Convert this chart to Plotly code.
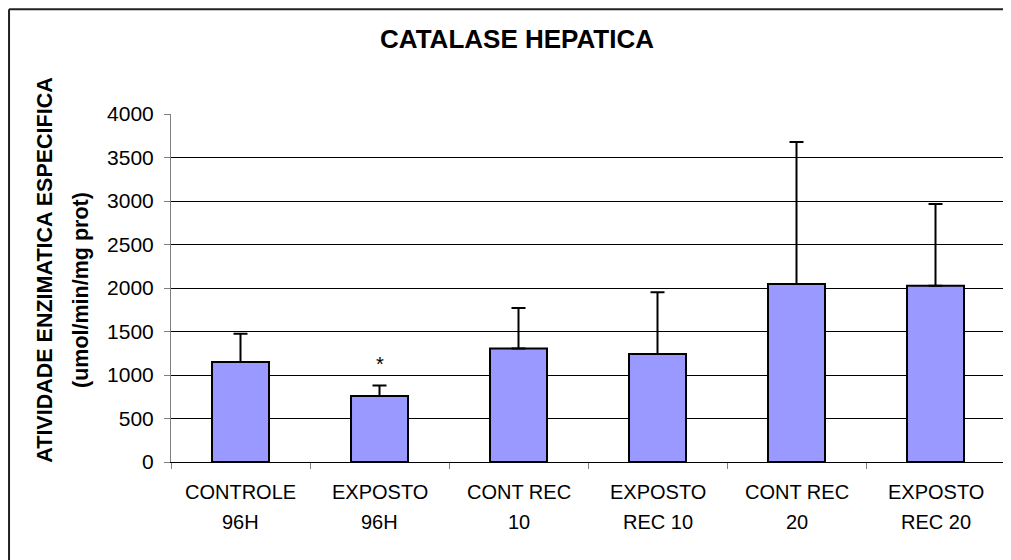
"""Catalase hepatica - barras com desvio padrao (somente para cima)."""
import plotly.graph_objects as go

# dados
label_line1 = ["CONTROLE", "EXPOSTO", "CONT REC", "EXPOSTO", "CONT REC", "EXPOSTO"]
label_line2 = ["96H", "96H", "10", "REC 10", "20", "REC 20"]
categories = [a + " " + b for a, b in zip(label_line1, label_line2)]
atividade = [1150, 760, 1305, 1240, 2045, 2025]
desvio = [325, 118, 465, 710, 1633, 940]
significativo = ["", "*", "", "", "", ""]
y_ticks = [0, 500, 1000, 1500, 2000, 2500, 3000, 3500, 4000]

FONT = "Liberation Sans, Arial, sans-serif"

fig = go.Figure(
    go.Bar(
        x=categories,
        y=atividade,
        width=0.41,
        marker=dict(color="#9999FF", line=dict(color="#000000", width=2)),
        error_y=dict(
            type="data",
            symmetric=False,
            array=desvio,
            arrayminus=[0] * len(desvio),
            color="#000000",
            thickness=2,
            width=7,
        ),
        hoverinfo="skip",
    )
)

# rotulos do eixo x em duas linhas
for cat, l1, l2 in zip(categories, label_line1, label_line2):
    for txt, shift in ((l1, -30), (l2, -60)):
        fig.add_annotation(
            x=cat, xref="x", y=0, yref="paper",
            text=txt, showarrow=False,
            xanchor="center", yanchor="middle", yshift=shift,
            font=dict(family=FONT, size=20, color="#000000"),
        )

# asterisco de significancia
for cat, v, d, s in zip(categories, atividade, desvio, significativo):
    if s:
        fig.add_annotation(
            x=cat, y=v + d, text=s, showarrow=False,
            yanchor="middle", yshift=22,
            font=dict(family=FONT, size=20, color="#000000"),
        )

# titulo do eixo y (duas linhas)
fig.add_annotation(
    x=-0.151, xref="paper", y=0.55, yref="paper",
    text="ATIVIDADE ENZIMATICA ESPECIFICA", textangle=-90, showarrow=False,
    xanchor="center", yanchor="middle",
    font=dict(family=FONT, size=21.5, color="#000000", weight="bold"),
)
fig.add_annotation(
    x=-0.108, xref="paper", y=0.494, yref="paper",
    text="(umol/min/mg prot)", textangle=-90, showarrow=False,
    xanchor="center", yanchor="middle",
    font=dict(family=FONT, size=21.5, color="#000000", weight="bold"),
)

# moldura do grafico (parcialmente cortada na imagem)
fig.add_shape(type="line", xref="paper", yref="paper",
              x0=-0.1942, y0=1.301, x1=1.02, y1=1.301,
              line=dict(color="#222222", width=2))
fig.add_shape(type="line", xref="paper", yref="paper",
              x0=-0.1942, y0=1.301, x1=-0.1942, y1=-0.32,
              line=dict(color="#222222", width=2))

# a pagina tem margem de 8px no body: figura 1003x552
fig.update_layout(
    width=1003,
    height=552,
    title=dict(
        text="CATALASE HEPATICA",
        x=0.5075, xref="container", xanchor="center",
        y=0.944, yref="container", yanchor="middle",
        font=dict(family=FONT, size=26, color="#000000", weight="bold"),
    ),
    showlegend=False,
    plot_bgcolor="#FFFFFF",
    paper_bgcolor="#FFFFFF",
    margin=dict(l=163, r=6, t=106, b=98),
    font=dict(family=FONT, color="#000000"),
)
fig.update_xaxes(
    type="category",
    range=[-0.5, 5.5],
    showticklabels=False,
    tickson="boundaries",
    ticks="outside",
    ticklen=6,
    tickcolor="#808080",
    showline=True,
    linecolor="#000000",
    linewidth=1,
    showgrid=False,
)
fig.update_yaxes(
    range=[0, 4000],
    tickvals=y_ticks,
    ticks="outside",
    ticklen=6,
    tickcolor="#808080",
    ticklabelstandoff=6,
    tickfont=dict(family=FONT, size=21, color="#000000"),
    showline=True,
    linecolor="#808080",
    linewidth=1,
    showgrid=True,
    gridcolor="#000000",
    gridwidth=1,
    zeroline=False,
)

fig.write_html("out.html")
